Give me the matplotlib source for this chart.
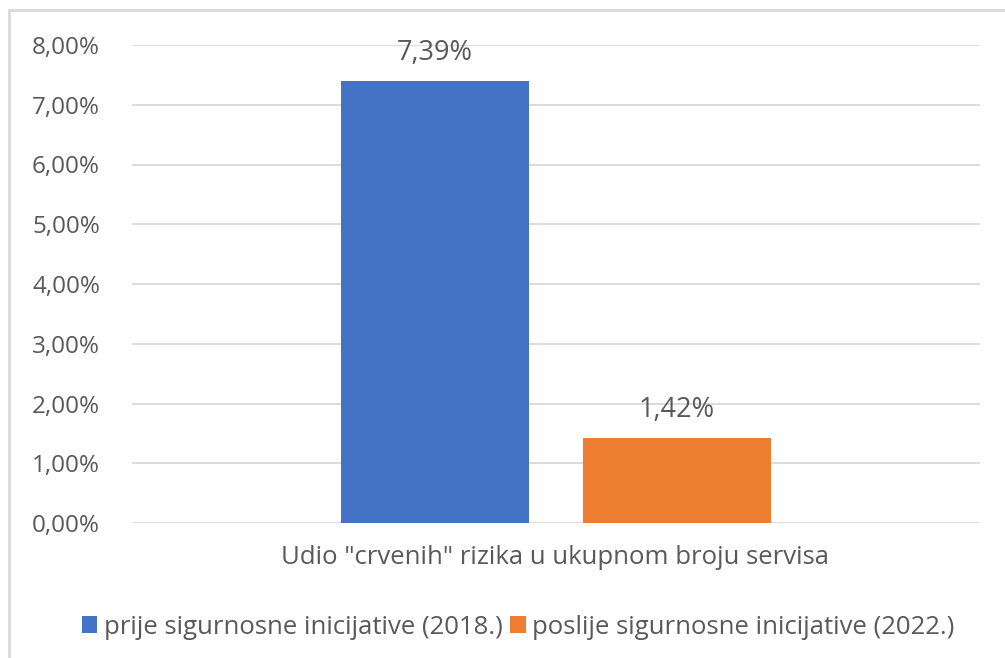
import numpy as np
import matplotlib.pyplot as plt
from matplotlib.patches import Rectangle

plt.rcParams['font.family'] = ['Open Sans', 'DejaVu Sans']

category = 'Udio "crvenih" rizika u ukupnom broju servisa'
series = ['prije sigurnosne inicijative (2018.)', 'poslije sigurnosne inicijative (2022.)']
values = [7.39, 1.42]
colors = ['#4472C4', '#ED7D31']
yticks = [0, 1, 2, 3, 4, 5, 6, 7, 8]

txt = '#595959'

fig = plt.figure(figsize=(10.05, 6.58), dpi=100)
ax = fig.add_axes([132/1005, 1-523/658, 848/1005, (523-45)/658])

w = 0.222
offsets = [-0.1425, 0.1425]
for v, c, o, s in zip(values, colors, offsets, series):
    ax.bar(o, v, width=w, color=c, label=s, zorder=3)
    ax.annotate(f'{v:.2f}'.replace('.', ',') + '%', (o, v), xytext=(0, 28),
                textcoords='offset pixels', ha='center', va='center',
                fontsize=19.5, color=txt)

ax.set_xlim(-0.5, 0.5)
ax.set_ylim(0, 8)
ax.set_yticks(yticks)
ax.set_yticklabels([f'{t:.2f}'.replace('.', ',') + '%' for t in yticks], fontsize=17.5, color=txt)
ax.set_xticks([])
ax.grid(axis='y', color='#D9D9D9', linewidth=1.3, zorder=0)
for sp in ax.spines.values():
    sp.set_visible(False)
ax.tick_params(axis='y', length=0, pad=23)

fig.text(555/1005, 1-557/658, category, ha='center', va='center', fontsize=18.5, color=txt)

leg = fig.legend(loc='center', bbox_to_anchor=(518/1005, 1-627/658), ncol=2, frameon=False,
                 fontsize=18.5, handlelength=0.6, handleheight=0.6, handletextpad=0.25,
                 columnspacing=0.3, labelcolor=txt)

# outer chart border
fig.add_artist(Rectangle((9/1005, -0.01), 1.02, 1-10/658 + 0.01, transform=fig.transFigure,
                         fill=False, edgecolor='#D9D9D9', linewidth=2))

fig.savefig('out.png', dpi=100)
